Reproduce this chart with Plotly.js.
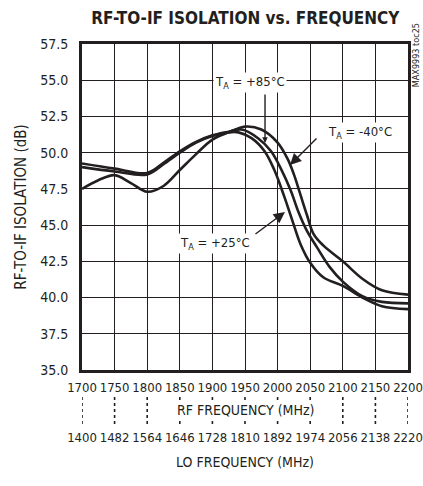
<!DOCTYPE html>
<html>
<head>
<meta charset="utf-8">
<script src="https://cdn.plot.ly/plotly-3.0.1.min.js"></script>
<style>html,body{margin:0;padding:0;background:#fff;}#chart{width:423px;height:486px;}</style>
</head>
<body>
<div id="chart"></div>
<script>
// RF frequency (MHz) and RF-to-IF isolation (dB) for each temperature
var freqM40 = [1700,1725,1750,1775,1800,1825,1850,1875,1900,1925,1950,1975,2000,2015,2025,2035,2045,2055,2070,2100,2130,2160,2200];
var isoM40  = [47.5,48.1,48.45,47.9,47.3,47.7,48.8,49.9,50.9,51.4,51.8,51.6,50.7,49.6,48.5,47.1,45.7,44.4,43.6,42.5,41.3,40.5,40.2];

var freqP85 = [1700,1750,1800,1825,1850,1875,1900,1925,1945,1970,1990,2005,2020,2032,2045,2060,2080,2100,2130,2160,2200];
var isoP85  = [49.25,48.9,48.6,49.3,50.1,50.75,51.2,51.45,51.6,51.0,50.1,48.9,47.4,45.9,44.6,43.5,42.1,41.1,40.1,39.7,39.6];

var freqP25 = [1700,1750,1800,1825,1850,1875,1900,1925,1940,1960,1980,1995,2010,2022,2035,2050,2070,2100,2130,2160,2200];
var isoP25  = [49.0,48.7,48.5,49.2,50.0,50.7,51.15,51.4,51.4,51.0,50.1,48.8,47.0,45.4,43.7,42.4,41.4,40.8,40.0,39.4,39.2];

// Axis ticks
var rfTicks = [1700,1750,1800,1850,1900,1950,2000,2050,2100,2150,2200];
var loLabels = ['1400','1482','1564','1646','1728','1810','1892','1974','2056','2138','2220'];
var yTicks = [35.0,37.5,40.0,42.5,45.0,47.5,50.0,52.5,55.0,57.5];

// Curve labels
var labelText = ['T<sub>A</sub> = +85°C', 'T<sub>A</sub> = -40°C', 'T<sub>A</sub> = +25°C'];

var FONT = '"DejaVu Sans Condensed", "Liberation Sans Narrow", Arial, sans-serif';
var INK = '#231f20';

function curve(x, y, name) {
  return {x: x, y: y, name: name, type: 'scatter', mode: 'lines',
          line: {color: INK, width: 2.6, shape: 'spline', smoothing: 1},
          hoverinfo: 'skip', showlegend: false, xaxis: 'x', yaxis: 'y'};
}

var data = [
  curve(freqM40, isoM40, 'TA = -40°C'),
  curve(freqP85, isoP85, 'TA = +85°C'),
  curve(freqP25, isoP25, 'TA = +25°C'),
  {x: [rfTicks[0], rfTicks[rfTicks.length-1]], y: [null, null], type: 'scatter', mode: 'lines',
   xaxis: 'x2', yaxis: 'y', showlegend: false, hoverinfo: 'skip'}
];

// paper geometry: plot bottom at 446px, y-domain starts at 370px
var H = 402; // 446 - 44
function py(pix) { return (446 - pix) / H; }

var shapes = rfTicks.map(function (f) {
  return {type: 'line', xref: 'x', yref: 'paper', x0: f, x1: f, y0: py(397), y1: py(424),
          line: {color: INK, width: 1.6, dash: 'dot'}, layer: 'above'};
});

function label(text, x, y) {
  return {text: text, xref: 'x', yref: 'y', x: x, y: y, showarrow: false,
          bgcolor: '#fff', font: {size: 13}, borderpad: 1, xanchor: 'center', yanchor: 'middle'};
}
function arrow(x, y, ax, ay, size) {
  return {text: '', xref: 'x', yref: 'y', x: x, y: y, ax: ax, ay: ay, showarrow: true,
          arrowhead: 2, arrowsize: size, arrowwidth: 1.4, arrowcolor: INK};
}

var layout = {
  width: 423, height: 486,
  margin: {l: 82, r: 15, t: 44, b: 40},
  paper_bgcolor: '#fff', plot_bgcolor: '#fff',
  font: {family: FONT, color: INK, size: 13},
  title: {text: '<b>RF-TO-IF ISOLATION vs. FREQUENCY</b>', x: 0.58, xanchor: 'center',
          y: 1 - 18/486, yanchor: 'middle', font: {family: FONT, size: 17, color: INK}},
  showlegend: false,
  xaxis: {range: [1700, 2200], tickvals: rfTicks, ticktext: rfTicks.map(String),
          showgrid: true, gridcolor: INK, gridwidth: 1, zeroline: false,
          showline: true, linecolor: INK, linewidth: 3, mirror: true, tickangle: 0,
          ticks: '', ticklabelstandoff: 3, tickfont: {size: 13}, anchor: 'y'},
  xaxis2: {range: [1700, 2200], overlaying: 'x', anchor: 'free', position: py(428),
           tickvals: rfTicks, ticktext: loLabels, showgrid: false, zeroline: false, tickangle: 0,
           showline: false, ticks: '', tickfont: {size: 13}, side: 'bottom', ticklabelstandoff: 0},
  yaxis: {range: [35, 57.5], domain: [py(370), 1], tickvals: yTicks,
          ticktext: yTicks.map(function (v) { return v.toFixed(1); }),
          showgrid: true, gridcolor: INK, gridwidth: 1, zeroline: false,
          showline: true, linecolor: INK, linewidth: 3, mirror: true,
          ticks: '', ticklabelstandoff: 8, tickfont: {size: 14},
          title: {text: 'RF-TO-IF ISOLATION (dB)', font: {size: 15}, standoff: 10}},
  shapes: shapes,
  annotations: [
    {text: 'RF FREQUENCY (MHz)', xref: 'paper', yref: 'paper', x: 0.5, y: py(410), yanchor: 'middle',
     showarrow: false, bgcolor: '#fff', font: {size: 14}, borderpad: 1},
    {text: 'LO FREQUENCY (MHz)', xref: 'paper', yref: 'paper', x: 0.5, y: py(462), yanchor: 'middle',
     showarrow: false, font: {size: 14}},
    {text: 'MAX9993 toc25', xref: 'paper', yref: 'paper', x: 1.025, y: py(55),
     showarrow: false, textangle: -90, font: {size: 9}, xanchor: 'center', yanchor: 'middle'},
    arrow(1980.7, 50.67, 0, -50, 0.8),
    arrow(2019, 49.15, 28, -28, 1.6),
    arrow(2011.3, 45.9, -31, 23, 1.6),
    label(labelText[0], 1957.7, 54.81),
    label(labelText[1], 2126.4, 51.36),
    label(labelText[2], 1904, 43.76)
  ]
};

Plotly.newPlot('chart', data, layout, {displayModeBar: false, staticPlot: true});
</script>
</body>
</html>
